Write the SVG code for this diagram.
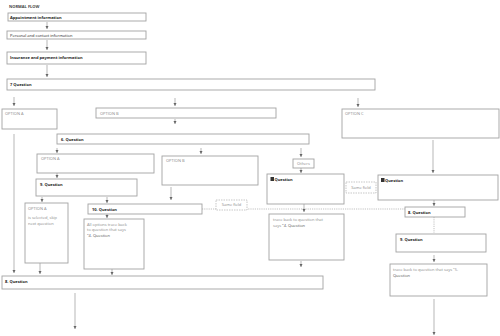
<svg xmlns="http://www.w3.org/2000/svg" width="500" height="336" viewBox="0 0 500 336">
<style>
.bx{fill:#fff;stroke:#a3a3a3;stroke-width:0.9}
.ds{fill:#fff;stroke:#b0b0b0;stroke-width:0.7;stroke-dasharray:1.5 1}
.t{font-family:"Open Sans","Liberation Sans",sans-serif;font-size:4px;fill:#222}
.b{font-weight:bold}
.g{fill:#8a8a8a}
.c{stroke:#888;stroke-width:0.6;fill:none}
.cd{stroke:#999;stroke-width:0.6;fill:none;stroke-dasharray:1.2 1}
.blk{fill:#333}
</style>
<defs>
<marker id="ah" markerWidth="4" markerHeight="4" refX="3" refY="2" orient="auto" markerUnits="userSpaceOnUse">
<path d="M0,0.5 L3,2 L0,3.5 Z" fill="#666"/>
</marker>
</defs>
<rect width="500" height="336" fill="#fff"/>
<g id="connectors">
<path class="c" d="M47,22 V29" marker-end="url(#ah)"/>
<path class="c" d="M47,40 V50" marker-end="url(#ah)"/>
<path class="c" d="M47,65 V77" marker-end="url(#ah)"/>
<path class="c" d="M14,97 V106" marker-end="url(#ah)"/>
<path class="c" d="M175,98 V106" marker-end="url(#ah)"/>
<path class="c" d="M358,98 V107" marker-end="url(#ah)"/>
<path class="c" d="M175,119 V124" marker-end="url(#ah)"/>
<path class="c" d="M14,134 V273" marker-end="url(#ah)"/>
<path class="c" d="M57,148 V153" marker-end="url(#ah)"/>
<path class="c" d="M201,148 V154" marker-end="url(#ah)"/>
<path class="c" d="M301,148 V157" marker-end="url(#ah)"/>
<path class="c" d="M433,140 V173" marker-end="url(#ah)"/>
<path class="c" d="M57,173 V178" marker-end="url(#ah)"/>
<path class="c" d="M301,168 V173" marker-end="url(#ah)"/>
<path class="c" d="M42,197 V202" marker-end="url(#ah)"/>
<path class="c" d="M107,197 V203" marker-end="url(#ah)"/>
<path class="c" d="M171,187 V200" marker-end="url(#ah)"/>
<path class="cd" d="M202,209 H405"/>
<path class="c" d="M304,204 V212" marker-end="url(#ah)"/>
<path class="c" d="M434,200 V206" marker-end="url(#ah)"/>
<path class="c" d="M107,214 V218" marker-end="url(#ah)"/>
<path class="cd" d="M434,217 V233"/>
<path class="c" d="M434,255 V262" marker-end="url(#ah)"/>
<path class="c" d="M40,263 V274" marker-end="url(#ah)"/>
<path class="c" d="M112,269 V275" marker-end="url(#ah)"/>
<path class="c" d="M301,261 V267" marker-end="url(#ah)"/>
<path class="c" d="M75,293 V329" marker-end="url(#ah)"/>
<path class="c" d="M434,299 V335" marker-end="url(#ah)"/>
</g>
<g id="title"><text class="t b" x="9" y="8" fill="#444" style="fill:#444">NORMAL FLOW</text></g>
<g id="appt"><rect class="bx" x="8" y="13" width="138" height="8"/><text class="t b" x="10" y="18.5">Appointment information</text></g>
<g id="personal"><rect class="bx" x="7" y="31" width="139" height="8"/><text class="t" x="10" y="36.5">Personal and contact information</text></g>
<g id="insurance"><rect class="bx" x="7" y="52" width="139" height="12"/><text class="t b" x="10" y="59">Insurance and payment information</text></g>
<g id="q7"><rect class="bx" x="7" y="79" width="368" height="11"/><text class="t b" x="10" y="85.5">7 Question</text></g>
<g id="optA1"><rect class="bx" x="2" y="109" width="55" height="20"/><text class="t g" x="5" y="115">OPTION A</text></g>
<g id="optB1"><rect class="bx" x="96" y="108" width="180" height="10"/><text class="t g" x="100" y="114.5">OPTION B</text></g>
<g id="optC"><rect class="bx" x="342" y="109" width="157" height="29"/><text class="t g" x="345" y="115">OPTION C</text></g>
<g id="q6"><rect class="bx" x="57" y="134" width="252" height="10"/><text class="t b" x="61" y="140.5">6. Question</text></g>
<g id="optA2"><rect class="bx" x="37" y="154" width="117" height="19"/><text class="t g" x="41" y="160">OPTION A</text></g>
<g id="optB2"><rect class="bx" x="162" y="156" width="96" height="29"/><text class="t g" x="166" y="162">OPTION B</text></g>
<g id="others"><rect class="bx" x="293" y="159" width="21" height="9"/><text class="t g" x="303.5" y="165" text-anchor="middle">Others</text></g>
<g id="qLeft"><rect class="bx" x="267" y="174" width="77" height="30"/><rect class="blk" x="270.5" y="177" width="3.5" height="4"/><text class="t b" x="274.5" y="180.5">Question</text></g>
<g id="q9"><rect class="bx" x="36" y="179" width="101" height="17"/><text class="t b" x="40" y="185.5">9. Question</text></g>
<g id="optA3"><rect class="bx" x="25" y="203" width="43" height="60"/><text class="t g" x="28" y="210">OPTION A</text><text class="t g" x="28" y="218.5">is selected, skip</text><text class="t g" x="28" y="224.5">next question</text></g>
<g id="q10"><rect class="bx" x="88" y="204" width="114" height="10"/><text class="t b" x="92" y="210.5">10. Question</text></g>
<g id="allOpts"><rect class="bx" x="84" y="219" width="60" height="50"/><text class="t g" x="87" y="225.5">All options trace back</text><text class="t g" x="87" y="231">to question that says</text><text class="t" x="87" y="236.5" style="fill:#555">"4. Question</text></g>
<g id="sameField1"><rect class="ds" x="216" y="200" width="31" height="10"/><text class="t g" x="231.5" y="206.3" text-anchor="middle">Same field</text></g>
<g id="traceLeft"><rect class="bx" x="269" y="214" width="75" height="46"/><text class="t g" x="273" y="220.5">trace back to question that</text><text class="t" x="273" y="226.5"><tspan class="g">says </tspan><tspan style="fill:#555">"4. Question</tspan></text></g>
<g id="qRight"><rect class="bx" x="378" y="175" width="120" height="25"/><rect class="blk" x="381" y="178" width="3.5" height="4"/><text class="t b" x="385" y="181.5">Question</text></g>
<g id="sameField2"><rect class="ds" x="346" y="182" width="30" height="11"/><text class="t g" x="361" y="188.5" text-anchor="middle">Same field</text></g>
<g id="q8right"><rect class="bx" x="405" y="207" width="60" height="10"/><text class="t b" x="408" y="213.5">8. Question</text></g>
<g id="q9right"><rect class="bx" x="396" y="234" width="90" height="18"/><text class="t b" x="400" y="240.5">9. Question</text></g>
<g id="traceRight"><rect class="bx" x="390" y="264" width="97" height="32"/><text class="t g" x="393" y="271">trace back to question that says "5.</text><text class="t" x="393" y="277" style="fill:#555">Question</text></g>
<g id="q8bottom"><rect class="bx" x="2" y="276" width="321" height="13"/><text class="t b" x="5" y="282.5">8. Question</text></g>
</svg>
